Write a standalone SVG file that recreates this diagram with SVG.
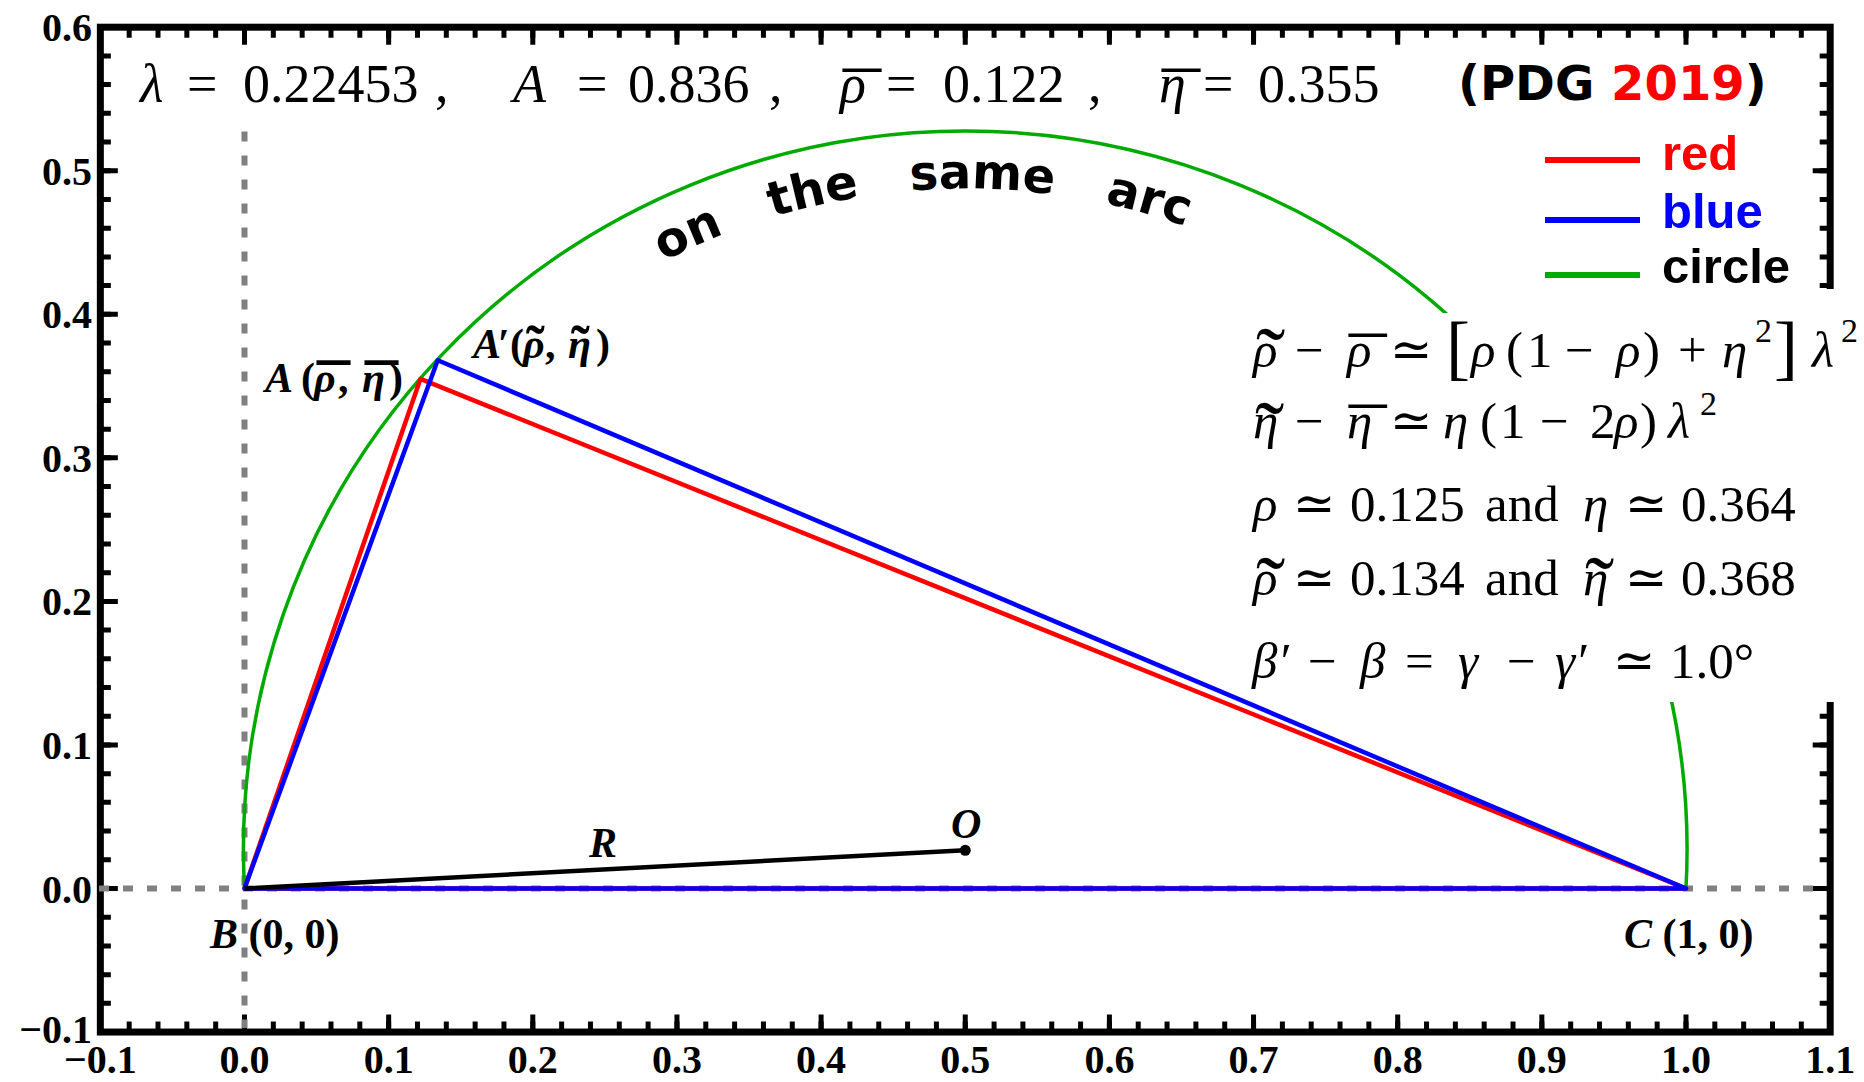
<svg xmlns="http://www.w3.org/2000/svg" width="1864" height="1082" viewBox="0 0 1864 1082">
<style>
.tex{font-family:"Liberation Serif","DejaVu Serif",serif;fill:#000}
.i{font-style:italic}
.top{font-size:54px}
.fm{font-size:51px}
.sup{font-size:34px}
.big{font-size:72px}
.tld{font-size:88px;font-style:normal}
.mac{font-size:75px;font-style:normal}
.tick{font-family:"Liberation Serif","DejaVu Serif",serif;font-weight:bold;font-size:40px;fill:#000}
.xt{text-anchor:middle}
.yt{text-anchor:end}
.lbl{font-family:"Liberation Serif","DejaVu Serif",serif;font-weight:bold;font-size:42px;fill:#000}
.sans{font-family:"DejaVu Sans",sans-serif;font-weight:bold;font-size:48px;fill:#000}
.leg{font-family:"Liberation Sans",Arial,sans-serif;font-weight:bold;font-size:49px}
.dash{stroke:#808080;stroke-width:6;stroke-dasharray:10 14;fill:none}
.tk{fill:none;stroke:#000}
.tri{fill:none;stroke-width:4.5;stroke-linejoin:round}
</style>
<defs>
<path id="arcpath" d="M 303.25 850.27 A 662 662 0 0 1 1627.25 850.27" fill="none"/>
</defs>
<rect width="1864" height="1082" fill="#fff"/>

<g id="axes" class="tk">
<rect x="100.35" y="27.2" width="1729.85" height="1004.85" stroke-width="7"/>
<line x1="97.85" y1="1026.75" x2="1835" y2="1026.75" stroke-width="10.5" stroke-dasharray="5 23.83"/>
<line x1="97.85" y1="1023.25" x2="1835" y2="1023.25" stroke-width="17.5" stroke-dasharray="5 139.15"/>
<line x1="97.85" y1="32.45" x2="1835" y2="32.45" stroke-width="10.5" stroke-dasharray="5 23.83"/>
<line x1="97.85" y1="35.95" x2="1835" y2="35.95" stroke-width="17.5" stroke-dasharray="5 139.15"/>
<line x1="105.6" y1="1034.55" x2="105.6" y2="22" stroke-width="10.5" stroke-dasharray="5 23.71"/>
<line x1="109.1" y1="1034.55" x2="109.1" y2="22" stroke-width="17.5" stroke-dasharray="5 138.55"/>
<line x1="1824.95" y1="1034.55" x2="1824.95" y2="22" stroke-width="10.5" stroke-dasharray="5 23.71"/>
<line x1="1821.45" y1="1034.55" x2="1821.45" y2="22" stroke-width="17.5" stroke-dasharray="5 138.55"/>
</g>

<g id="tick-labels">
<text class="tick xt" y="1073"><tspan x="100.35">−0.1</tspan><tspan x="244.5">0.0</tspan><tspan x="388.65">0.1</tspan><tspan x="532.8">0.2</tspan><tspan x="676.95">0.3</tspan><tspan x="821.1">0.4</tspan><tspan x="965.25">0.5</tspan><tspan x="1109.4">0.6</tspan><tspan x="1253.55">0.7</tspan><tspan x="1397.7">0.8</tspan><tspan x="1541.85">0.9</tspan><tspan x="1686">1.0</tspan><tspan x="1830.15">1.1</tspan></text>
<text class="tick yt" x="92" y="1043">−0.1</text>
<text class="tick yt" x="92" y="902.5">0.0</text>
<text class="tick yt" x="92" y="759">0.1</text>
<text class="tick yt" x="92" y="615.4">0.2</text>
<text class="tick yt" x="92" y="471.9">0.3</text>
<text class="tick yt" x="92" y="328.3">0.4</text>
<text class="tick yt" x="92" y="184.8">0.5</text>
<text class="tick yt" x="92" y="41.2">0.6</text>
</g>

<g id="guides">
<line class="dash" x1="244.5" y1="131.5" x2="244.5" y2="1028"/>
<line class="dash" x1="99" y1="888.5" x2="1826" y2="888.5"/>
</g>

<g id="circle">
<path d="M 244.5 888.5 A 721.8 718.8 0 1 1 1686 888.5" fill="none" stroke="#00aa00" stroke-width="3.5"/>
</g>

<g id="formula-background" fill="#fff">
<rect x="1460" y="289" width="404" height="25"/>
<rect x="1240" y="313" width="624" height="389"/>
</g>

<g id="connectors">
<polygon id="triangle-red" class="tri" stroke="#ff0000" points="244.5,888.5 420.4,378.9 1686,888.5"/>
<polygon id="triangle-blue" class="tri" stroke="#0000ff" points="244.5,888.5 437.7,360.2 1686,888.5"/>
<line id="radius-R" x1="244.5" y1="888.5" x2="965.25" y2="850.3" stroke="#000" stroke-width="4.5"/>
</g>

<g id="node-O">
<circle cx="965.25" cy="850.3" r="5.5" fill="#000"/>
<text class="lbl i" x="951" y="838">O</text>
</g>
<g id="label-R"><text class="lbl i" x="589" y="857">R</text></g>
<g id="node-A">
<text class="lbl" y="392"><tspan x="265" class="i">A</tspan><tspan x="301">(</tspan><tspan x="314" class="i">ρ</tspan><tspan x="317" y="410" font-size="66">¯</tspan><tspan x="338" y="392">,</tspan><tspan x="362" class="i">η</tspan><tspan x="365" y="410" font-size="66">¯</tspan><tspan x="389" y="392">)</tspan></text>
</g>
<g id="node-A-prime">
<text class="lbl" y="358"><tspan x="473" class="i">A</tspan><tspan x="498">′</tspan><tspan x="510">(</tspan><tspan x="523" class="i">ρ</tspan><tspan x="526" y="365" font-size="56">˜</tspan><tspan x="545" y="358">,</tspan><tspan x="568" class="i">η</tspan><tspan x="571" y="365" font-size="56">˜</tspan><tspan x="596" y="358">)</tspan></text>
</g>
<g id="node-B"><text class="lbl" x="210" y="948"><tspan class="i">B</tspan> (0, 0)</text></g>
<g id="node-C"><text class="lbl" x="1624" y="948"><tspan class="i">C</tspan> (1, 0)</text></g>

<g id="params">
<text class="tex top" y="102"><tspan x="140" class="i">λ</tspan><tspan x="187">=</tspan><tspan x="243">0.22453</tspan><tspan x="435">,</tspan><tspan x="513" class="i">A</tspan><tspan x="577">=</tspan><tspan x="628">0.836</tspan><tspan x="769">,</tspan><tspan x="840" class="i">ρ</tspan><tspan x="843" y="126" font-size="76">¯</tspan><tspan x="886" y="102">=</tspan><tspan x="943">0.122</tspan><tspan x="1088">,</tspan><tspan x="1159" class="i">η</tspan><tspan x="1162" y="126" font-size="76">¯</tspan><tspan x="1203" y="102">=</tspan><tspan x="1258">0.355</tspan></text>
</g>

<g id="pdg"><text class="sans" x="1458" y="100">(PDG <tspan fill="#ff0000">2019</tspan>)</text></g>

<g id="legend">
<line x1="1545" y1="160" x2="1640" y2="160" stroke="#ff0000" stroke-width="6"/>
<line x1="1545" y1="220" x2="1640" y2="220" stroke="#0000ff" stroke-width="6"/>
<line x1="1545" y1="275" x2="1640" y2="275" stroke="#00aa00" stroke-width="6"/>
<text class="leg" x="1662" y="170" fill="#ff0000">red</text>
<text class="leg" x="1662" y="228" fill="#0000ff">blue</text>
<text class="leg" x="1662" y="283" fill="#000">circle</text>
</g>

<g id="arc-text">
<text class="sans"><textPath href="#arcpath" startOffset="759.6" text-anchor="middle">on</textPath></text>
<text class="sans"><textPath href="#arcpath" startOffset="888.8" text-anchor="middle">the</textPath></text>
<text class="sans"><textPath href="#arcpath" startOffset="1056.5" text-anchor="middle">same</textPath></text>
<text class="sans"><textPath href="#arcpath" startOffset="1222" text-anchor="middle">arc</textPath></text>
</g>

<g id="formulas">
<text class="tex fm" y="367"><tspan x="1253" class="i">ρ</tspan><tspan x="1256" y="389" class="tld">˜</tspan><tspan x="1295" y="367">−</tspan><tspan x="1347" class="i">ρ</tspan><tspan x="1349" y="390" class="mac">¯</tspan><tspan x="1390" y="367">≃</tspan><tspan x="1446" y="371" class="big">[</tspan><tspan x="1471" y="367" class="i">ρ</tspan><tspan x="1506">(</tspan><tspan x="1527">1</tspan><tspan x="1565">−</tspan><tspan x="1616" class="i">ρ</tspan><tspan x="1643">)</tspan><tspan x="1678">+</tspan><tspan x="1722" class="i">η</tspan><tspan x="1755" y="342" class="sup">2</tspan><tspan x="1774" y="371" class="big">]</tspan><tspan x="1812" y="367" class="i">λ</tspan><tspan x="1841" y="342" class="sup">2</tspan></text>

<text class="tex fm" y="438"><tspan x="1253" class="i">η</tspan><tspan x="1255" y="463" class="tld">˜</tspan><tspan x="1295" y="438">−</tspan><tspan x="1347" class="i">η</tspan><tspan x="1349" y="461" class="mac">¯</tspan><tspan x="1390" y="438">≃</tspan><tspan x="1443" class="i">η</tspan><tspan x="1480">(</tspan><tspan x="1500">1</tspan><tspan x="1540">−</tspan><tspan x="1590">2</tspan><tspan x="1614" class="i">ρ</tspan><tspan x="1640">)</tspan><tspan x="1668" class="i">λ</tspan><tspan x="1700" y="415" class="sup">2</tspan></text>

<text class="tex fm" y="521"><tspan x="1253" class="i">ρ</tspan><tspan x="1293">≃</tspan><tspan x="1350">0.125</tspan><tspan x="1485">and</tspan><tspan x="1583" class="i">η</tspan><tspan x="1625">≃</tspan><tspan x="1681">0.364</tspan></text>

<text class="tex fm" y="595"><tspan x="1253" class="i">ρ</tspan><tspan x="1256" y="618" class="tld">˜</tspan><tspan x="1293" y="595">≃</tspan><tspan x="1350">0.134</tspan><tspan x="1485">and</tspan><tspan x="1583" class="i">η</tspan><tspan x="1585" y="618" class="tld">˜</tspan><tspan x="1625" y="595">≃</tspan><tspan x="1681">0.368</tspan></text>

<text class="tex fm" y="678"><tspan x="1252" class="i">β′</tspan><tspan x="1308">−</tspan><tspan x="1360" class="i">β</tspan><tspan x="1405">=</tspan><tspan x="1458" class="i">γ</tspan><tspan x="1507">−</tspan><tspan x="1555" class="i">γ′</tspan><tspan x="1613">≃</tspan><tspan x="1670">1.0°</tspan></text>
</g>
</svg>
